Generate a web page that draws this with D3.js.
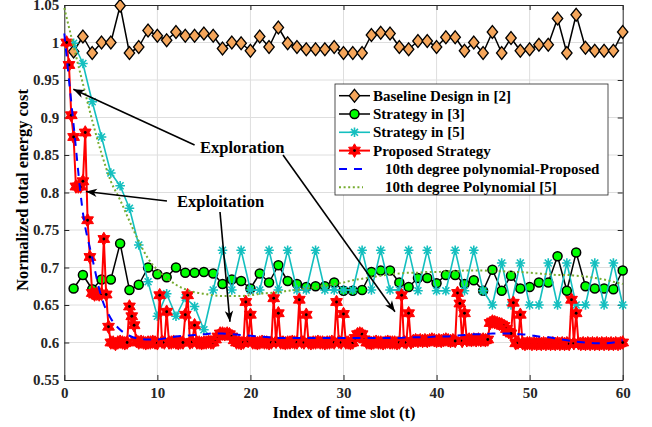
<!DOCTYPE html>
<html>
<head>
<meta charset="utf-8">
<script src="https://cdn.jsdelivr.net/npm/d3@7"></script>
<style>
body { margin: 0; background: #fff; }
text { font-family: "Liberation Serif", "Times New Roman", serif; font-weight: bold; }
</style>
</head>
<body>
<div id="chart"></div>
<script>

// time slots of the three compared schemes
var slots = d3.range(1, 61);
// time axis of the proposed strategy (quarter slots)
var slotsFine = d3.range(1, 241).map(function (i) { return i / 4; });
// time axis of the polynomial fits
var slotsFit = d3.range(0, 61);

var baselineCost = [
  0.988, 1.008, 0.986, 1.0, 1.0, 1.049, 0.986, 0.994, 1.016, 1.009,
  1.003, 1.014, 1.009, 1.009, 1.012, 1.009, 0.992, 1.0, 0.999, 0.989,
  1.008, 0.994, 1.02, 0.999, 0.994, 0.991, 0.991, 0.991, 0.994, 0.986,
  0.986, 0.986, 1.01, 1.013, 1.012, 0.994, 0.991, 1.002, 1.002, 0.994,
  1.007, 1.007, 0.989, 1.0, 0.986, 1.014, 0.986, 1.006, 0.989, 0.991,
  0.997, 0.997, 1.032, 0.986, 1.037, 0.993, 0.989, 0.989, 0.989, 1.014];

var strategy3Cost = [
  0.672, 0.69, 0.671, 0.684, 0.684, 0.732, 0.67, 0.677, 0.70, 0.691,
  0.687, 0.70, 0.693, 0.693, 0.694, 0.692, 0.678, 0.684, 0.682, 0.672,
  0.692, 0.68, 0.703, 0.682, 0.678, 0.674, 0.675, 0.675, 0.68, 0.669,
  0.669, 0.67, 0.694, 0.696, 0.696, 0.68, 0.674, 0.686, 0.686, 0.679,
  0.69, 0.69, 0.678, 0.683, 0.669, 0.697, 0.669, 0.689, 0.672, 0.674,
  0.68, 0.68, 0.715, 0.669, 0.72, 0.675, 0.672, 0.672, 0.671, 0.696];

var strategy5Cost = [
  0.999, 0.972, 0.921, 0.874, 0.826, 0.809, 0.779, 0.73, 0.681, 0.635,
  0.665, 0.635, 0.66, 0.648, 0.617, 0.67, 0.723, 0.67, 0.723, 0.67,
  0.67, 0.723, 0.67, 0.723, 0.67, 0.67, 0.723, 0.67, 0.67, 0.67,
  0.67, 0.723, 0.67, 0.723, 0.67, 0.67, 0.723, 0.669, 0.723, 0.669,
  0.669, 0.723, 0.669, 0.723, 0.669, 0.65, 0.706, 0.65, 0.706, 0.65,
  0.65, 0.706, 0.65, 0.706, 0.65, 0.65, 0.706, 0.65, 0.706, 0.65];

// one row = 5 slots
var proposedCost = [
  1.0, 0.97, 0.903, 0.874, 0.808, 0.808, 0.808, 0.815, 0.88, 0.763, 0.714, 0.666, 0.664, 0.665, 0.664, 0.665, 0.738, 0.664, 0.621, 0.6,
  0.6, 0.598, 0.6, 0.601, 0.6, 0.599, 0.6, 0.648, 0.635, 0.623, 0.602, 0.6, 0.601, 0.6, 0.599, 0.6, 0.6, 0.601, 0.6, 0.599,
  0.663, 0.601, 0.6, 0.641, 0.6, 0.6, 0.601, 0.6, 0.599, 0.6, 0.6, 0.637, 0.663, 0.6, 0.601, 0.623, 0.6, 0.6, 0.599, 0.6,
  0.6, 0.601, 0.6, 0.6, 0.604, 0.608, 0.612, 0.612, 0.611, 0.612, 0.611, 0.608, 0.603, 0.6, 0.6, 0.599, 0.6, 0.654, 0.602, 0.637,
  0.6, 0.6, 0.599, 0.6, 0.601, 0.6, 0.6, 0.599, 0.6, 0.659, 0.601, 0.639, 0.6, 0.6, 0.599, 0.6, 0.6, 0.601, 0.6, 0.6,
  0.657, 0.601, 0.6, 0.637, 0.6, 0.599, 0.6, 0.6, 0.601, 0.6, 0.6, 0.599, 0.6, 0.6, 0.601, 0.6, 0.654, 0.601, 0.6, 0.638,
  0.6, 0.6, 0.599, 0.6, 0.606, 0.611, 0.612, 0.611, 0.604, 0.6, 0.6, 0.599, 0.6, 0.601, 0.6, 0.6, 0.599, 0.6, 0.601, 0.6,
  0.6, 0.6, 0.599, 0.6, 0.663, 0.601, 0.6, 0.639, 0.6, 0.602, 0.603, 0.602, 0.603, 0.602, 0.603, 0.602, 0.603, 0.604, 0.603, 0.602,
  0.603, 0.602, 0.603, 0.604, 0.603, 0.602, 0.603, 0.602, 0.666, 0.652, 0.602, 0.639, 0.603, 0.604, 0.603, 0.604, 0.603, 0.604, 0.603, 0.604,
  0.603, 0.604, 0.626, 0.628, 0.627, 0.626, 0.625, 0.624, 0.622, 0.618, 0.614, 0.612, 0.653, 0.599, 0.6, 0.637, 0.599, 0.598, 0.599, 0.599,
  0.598, 0.599, 0.598, 0.599, 0.598, 0.599, 0.598, 0.599, 0.598, 0.599, 0.598, 0.599, 0.598, 0.599, 0.598, 0.599, 0.598, 0.657, 0.599, 0.639,
  0.599, 0.598, 0.599, 0.598, 0.599, 0.598, 0.599, 0.598, 0.599, 0.598, 0.599, 0.598, 0.599, 0.598, 0.599, 0.598, 0.599, 0.598, 0.599, 0.6];

var fitProposed = [
  1.012, 0.89, 0.773, 0.713, 0.66, 0.632, 0.617, 0.609, 0.605, 0.604,
  0.604, 0.606, 0.608, 0.609, 0.61, 0.611, 0.612, 0.612, 0.611, 0.61,
  0.609, 0.608, 0.607, 0.606, 0.606, 0.606, 0.606, 0.606, 0.606, 0.606,
  0.606, 0.606, 0.606, 0.606, 0.606, 0.606, 0.606, 0.607, 0.607, 0.607,
  0.608, 0.608, 0.609, 0.61, 0.611, 0.611, 0.612, 0.612, 0.612, 0.611,
  0.61, 0.608, 0.607, 0.605, 0.603, 0.601, 0.6, 0.599, 0.599, 0.6, 0.603];

var fitStrategy5 = [
  1.046, 0.995, 0.945, 0.896, 0.852, 0.815, 0.79, 0.762, 0.735, 0.712,
  0.697, 0.686, 0.677, 0.671, 0.667, 0.665, 0.663, 0.662, 0.662, 0.662,
  0.663, 0.665, 0.666, 0.667, 0.669, 0.67, 0.672, 0.674, 0.676, 0.678,
  0.68, 0.683, 0.685, 0.687, 0.689, 0.691, 0.692, 0.693, 0.693, 0.694,
  0.694, 0.695, 0.695, 0.696, 0.696, 0.696, 0.695, 0.695, 0.694, 0.694,
  0.693, 0.692, 0.691, 0.69, 0.69, 0.689, 0.688, 0.686, 0.684, 0.681, 0.678];

var xTicks = [0, 10, 20, 30, 40, 50, 60];
var yTicks = [0.55, 0.6, 0.65, 0.7, 0.75, 0.8, 0.85, 0.9, 0.95, 1.0, 1.05];
var yTickLabels = ["0.55", "0.6", "0.65", "0.7", "0.75", "0.8", "0.85", "0.9", "0.95", "1", "1.05"];

var legendNames = ["Baseline Design in [2]", "Strategy in [3]", "Strategy in [5]", "Proposed Strategy",
                   "10th degree polynomial-Proposed", "10th degree Polynomial [5]"];

// annotations: [text, t, value] and arrows [t0, v0, t1, v1] in data units
var notes = [["Exploration", 14.58, 0.853], ["Exploitation", 12.11, 0.7807]];
var arrows = [[14.0, 0.8633, 0.97, 0.9376], [23.5, 0.85, 35.53, 0.641],
              [11.03, 0.7887, 2.33, 0.8013], [16.73, 0.774, 17.8, 0.6277]];

var AX = "#262626";
var W = 652, H = 427;
var x = d3.scaleLinear().domain([0, 60]).range([64.3, 622.7]);
var y = d3.scaleLinear().domain([0.55, 1.05]).range([380, 5]);

var svg = d3.select("#chart").append("svg").attr("width", W).attr("height", H);

// grid
svg.append("g").selectAll("line").data(xTicks.slice(1, -1)).enter().append("line")
    .attr("x1", function (d) { return x(d); }).attr("x2", function (d) { return x(d); })
    .attr("y1", y(1.05)).attr("y2", y(0.55))
    .attr("stroke", "#dedede").attr("stroke-width", 1);
svg.append("g").selectAll("line").data(yTicks.slice(1, -1)).enter().append("line")
    .attr("y1", function (d) { return y(d); }).attr("y2", function (d) { return y(d); })
    .attr("x1", x(0)).attr("x2", x(60))
    .attr("stroke", "#dedede").attr("stroke-width", 1);

// axes (box with inward ticks)
function styleAxis(g) {
    g.selectAll("path").attr("stroke", AX).attr("stroke-width", 1);
    g.selectAll("line").attr("stroke", AX);
    g.selectAll("text").attr("fill", AX).style("font-size", "15px")
        .style("font-family", "'Liberation Serif', serif").style("font-weight", "bold");
}
var fmtY = function (d) { return yTickLabels[yTicks.indexOf(d)]; };
svg.append("g").attr("transform", "translate(0," + y(0.55) + ")")
    .call(d3.axisBottom(x).tickValues(xTicks).tickSize(-5).tickSizeOuter(0).tickPadding(7)).call(styleAxis);
svg.append("g").attr("transform", "translate(0," + y(1.05) + ")")
    .call(d3.axisTop(x).tickValues(xTicks).tickSize(-5).tickSizeOuter(0).tickFormat("")).call(styleAxis);
svg.append("g").attr("transform", "translate(" + x(0) + ",0)")
    .call(d3.axisLeft(y).tickValues(yTicks).tickSize(-5).tickSizeOuter(0).tickPadding(5).tickFormat(fmtY)).call(styleAxis);
svg.append("g").attr("transform", "translate(" + x(60) + ",0)")
    .call(d3.axisRight(y).tickValues(yTicks).tickSize(-5).tickSizeOuter(0).tickFormat("")).call(styleAxis);

svg.append("text").attr("x", 344).attr("y", 418).attr("text-anchor", "middle")
    .style("font-size", "16.5px").attr("fill", "#000").text("Index of time slot (t)");
svg.append("text").attr("transform", "translate(28,190) rotate(-90)").attr("text-anchor", "middle")
    .style("font-size", "16.5px").attr("fill", "#000").text("Normalized total energy cost");

// markers
function diamondPath(w, h) { return "M0," + (-h) + "L" + w + ",0L0," + h + "L" + (-w) + ",0Z"; }
function starPath(r) {
    var d = r * 0.72;
    return "M" + (-r) + ",0H" + r + "M0," + (-r) + "V" + r +
        "M" + (-d) + "," + (-d) + "L" + d + "," + d + "M" + (-d) + "," + d + "L" + d + "," + (-d);
}
function hexagramPath(R) {
    var pts = [];
    for (var i = 0; i < 12; i++) pts.push([i * Math.PI / 6, i % 2 ? R / Math.sqrt(3) : R]);
    return d3.lineRadial().curve(d3.curveLinearClosed)(pts);
}
function drawMarker(g, kind) {
    if (kind === "diamond")
        g.append("path").attr("d", diamondPath(5.2, 6.4)).attr("fill", "#f5a65b").attr("stroke", "#000").attr("stroke-width", 1.3);
    else if (kind === "circle")
        g.append("circle").attr("r", 4.5).attr("fill", "#00ff00").attr("stroke", "#000").attr("stroke-width", 1.5);
    else if (kind === "star")
        g.append("path").attr("d", starPath(4.8)).attr("fill", "none").attr("stroke", "#14bfbf").attr("stroke-width", 1.6);
    else if (kind === "hex") {
        g.append("path").attr("d", hexagramPath(6.8)).attr("fill", "#ff0000").attr("stroke", "#ff0000").attr("stroke-width", 1);
        g.append("circle").attr("r", 1.4).attr("fill", "#000");
    }
}

function zip(ts, vs) { return ts.map(function (t, i) { return [t, vs[i]]; }); }

var series = [
    { pts: zip(slots, baselineCost), color: "#000", width: 1.5, marker: "diamond" },
    { pts: zip(slots, strategy3Cost), color: "#000", width: 1.5, marker: "circle" },
    { pts: zip(slots, strategy5Cost), color: "#14bfbf", width: 1.6, marker: "star" },
    { pts: zip(slotsFine, proposedCost), color: "#ff0000", width: 2, marker: "hex" },
    { pts: zip(slotsFit, fitProposed), color: "#0000ff", width: 2, dash: "8,7", curve: true },
    { pts: zip(slotsFit, fitStrategy5), color: "#77ac30", width: 2, dash: "2,2.6", curve: true }
];

var line = d3.line().x(function (d) { return x(d[0]); }).y(function (d) { return y(d[1]); });
var smooth = d3.line().x(function (d) { return x(d[0]); }).y(function (d) { return y(d[1]); }).curve(d3.curveMonotoneX);

series.forEach(function (s) {
    var g = svg.append("g");
    g.append("path").attr("d", (s.curve ? smooth : line)(s.pts)).attr("fill", "none")
        .attr("stroke", s.color).attr("stroke-width", s.width)
        .attr("stroke-dasharray", s.dash || null).attr("stroke-linejoin", "round");
    if (s.marker) {
        g.selectAll("g.m").data(s.pts).enter().append("g").attr("class", "m")
            .attr("transform", function (d) { return "translate(" + x(d[0]) + "," + y(d[1]) + ")"; })
            .each(function () { drawMarker(d3.select(this), s.marker); });
    }
});

// annotations
svg.append("defs").append("marker").attr("id", "ah")
    .attr("viewBox", "-12 -6 13 12").attr("refX", 0).attr("refY", 0)
    .attr("markerWidth", 13).attr("markerHeight", 12).attr("markerUnits", "userSpaceOnUse")
    .attr("orient", "auto")
    .append("path").attr("d", "M0,0L-11,-4.2L-8,0L-11,4.2Z").attr("fill", "#000");
svg.append("g").selectAll("line").data(arrows).enter().append("line")
    .attr("x1", function (d) { return x(d[0]); }).attr("y1", function (d) { return y(d[1]); })
    .attr("x2", function (d) { return x(d[2]); }).attr("y2", function (d) { return y(d[3]); })
    .attr("stroke", "#000").attr("stroke-width", 1.6).attr("marker-end", "url(#ah)");
svg.append("g").selectAll("text").data(notes).enter().append("text")
    .attr("x", function (d) { return x(d[1]); }).attr("y", function (d) { return y(d[2]); })
    .style("font-size", "16.5px").attr("fill", "#000").text(function (d) { return d[0]; });

// legend
var lg = svg.append("g");
lg.append("rect").attr("x", 335).attr("y", 84).attr("width", 273).attr("height", 111)
    .attr("fill", "#fff").attr("stroke", AX).attr("stroke-width", 0.8);
legendNames.forEach(function (name, i) {
    var s = series[i], ry = 95.7 + i * 18.3;
    var x2 = s.curve ? 363 : 370;
    lg.append("line").attr("x1", 339).attr("x2", x2).attr("y1", ry).attr("y2", ry)
        .attr("stroke", s.color).attr("stroke-width", s.width).attr("stroke-dasharray", s.dash || null);
    if (s.marker) drawMarker(lg.append("g").attr("transform", "translate(354.5," + ry + ")"), s.marker);
    lg.append("text").attr("x", s.curve ? 385 : 373).attr("y", ry + 5)
        .style("font-size", "15px").attr("fill", "#000").text(name);
});

</script>
</body>
</html>
